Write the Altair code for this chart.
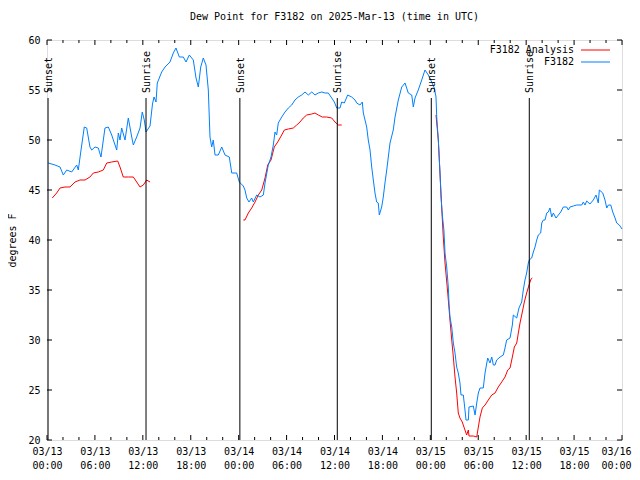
import altair as alt
import pandas as pd

# ---- data (time in hours since 2025-03-13 00:00 UTC) ----
obs_hours = [0.16,1.0,1.63,2.04,2.47,3.09,3.72,3.92,4.26,4.67,4.97,5.38,5.6,6.01,6.42,6.76,7.26,7.68,8.1,8.73,8.93,9.14,9.35,9.77,10.18,10.61,10.81,11.23,11.65,11.93,12.18,12.4,12.9,13.21,13.4,13.65,13.81,14.36,14.78,15.4,15.82,16.15,16.57,17.07,17.41,17.82,18.32,18.66,18.95,19.25,19.57,19.91,20.2,20.41,20.62,20.82,21.04,21.45,21.88,22.29,22.83,23.13,23.75,24.08,24.58,24.79,25.01,25.29,25.63,25.83,26.26,26.67,27.09,27.3,27.71,28.05,28.34,28.55,28.76,28.96,29.39,29.8,30.22,30.64,31.05,31.47,31.89,32.31,32.72,33.15,33.56,33.97,34.4,34.81,35.22,35.65,35.98,36.28,36.69,36.9,37.23,37.65,38.15,38.57,38.78,39.19,39.48,39.61,40.03,40.23,40.45,40.66,40.86,41.07,41.28,41.48,41.61,41.91,42.11,42.32,42.54,42.74,42.95,43.36,43.58,43.99,44.42,44.83,45.24,45.67,45.87,46.08,46.49,46.92,47.33,47.75,48.17,48.5,48.71,48.8,49.0,49.21,49.34,49.5,49.7,49.84,50.05,50.25,50.34,50.46,50.68,50.88,51.09,51.3,51.5,51.71,51.84,52.13,52.34,52.47,52.76,52.84,53.38,53.6,53.81,54.01,54.22,54.63,54.85,55.18,55.47,55.69,55.89,56.1,56.31,56.73,57.14,57.35,57.56,57.98,58.27,58.39,58.82,59.1,59.44,59.64,59.85,60.06,60.27,60.39,60.69,60.9,61.11,61.32,61.52,61.82,61.95,62.15,62.36,62.57,62.77,62.98,63.2,63.4,63.74,64.03,64.33,64.65,65.08,65.28,65.49,65.9,66.33,66.96,67.16,67.37,67.58,67.99,68.41,68.75,69.03,69.16,69.59,69.87,70.09,70.29,70.59,70.84,71.13,71.34,71.66,71.84,72.0]
obs_vals = [47.7,47.5,47.3,46.5,47.0,46.8,47.5,47.0,49.0,51.3,51.2,49.3,49.0,49.3,49.2,48.3,51.2,51.3,50.5,49.0,50.7,50.0,51.2,50.0,52.2,50.3,49.5,50.3,51.2,52.8,52.0,50.8,51.4,53.6,54.3,53.8,55.7,56.8,57.3,57.8,58.7,59.2,58.3,58.3,57.8,58.5,58.0,56.2,55.3,57.3,58.2,57.5,55.0,50.3,49.3,50.0,48.5,48.5,49.3,48.5,48.3,46.7,46.7,45.8,45.4,45.0,44.2,43.8,44.2,43.8,44.5,44.3,44.5,45.7,47.5,48.3,49.5,50.8,50.5,51.7,52.3,52.8,53.2,53.5,54.0,54.3,54.5,54.8,54.5,54.8,54.5,54.7,54.8,54.7,54.7,54.2,53.8,53.2,53.2,53.8,53.7,54.5,54.3,54.0,53.7,53.5,53.8,52.7,51.3,50.0,49.0,47.3,46.0,44.7,43.8,43.7,42.5,43.3,44.3,45.7,47.0,48.3,49.7,51.0,52.3,54.0,55.3,55.7,54.7,54.5,53.3,54.2,55.0,56.0,57.0,56.5,55.8,55.2,54.3,52.3,50.0,46.7,44.3,42.5,41.0,38.7,37.3,35.3,33.7,32.3,31.3,29.7,28.7,27.3,26.7,25.7,24.5,24.5,23.0,22.0,22.0,23.3,23.4,22.5,23.7,24.7,25.2,25.2,26.7,28.2,27.7,28.3,27.5,27.5,28.0,28.3,28.5,29.2,30.0,30.2,31.5,32.5,32.2,33.2,33.8,35.0,36.0,36.7,37.7,38.0,38.2,38.8,39.3,40.0,40.5,40.7,41.7,42.0,42.0,42.7,42.8,43.2,42.3,42.7,42.2,42.5,42.8,43.3,43.3,43.0,43.3,43.4,43.5,43.5,43.8,43.5,43.9,43.6,44.0,44.5,43.7,45.0,44.7,44.0,43.2,43.5,43.5,42.8,42.2,41.7,41.5,41.3,41.1]

ana1_hours = [0.66,1.21,1.63,2.25,2.88,3.51,4.13,4.76,5.38,5.8,6.42,7.05,7.48,8.1,8.85,9.14,9.55,10.18,10.81,11.23,11.65,12.06,12.48,12.9]
ana1_vals = [44.2,44.7,45.2,45.3,45.3,45.8,46.0,46.0,46.3,46.7,46.8,47.0,47.7,47.8,47.9,47.3,46.3,46.3,46.3,45.8,45.3,45.5,46.0,45.8]
ana2_hours = [24.58,24.79,25.21,25.63,26.05,26.46,26.89,27.3,27.64,28.05,28.46,28.89,29.39,29.72,30.22,30.84,31.27,31.68,32.09,32.52,33.15,33.56,33.97,34.47,35.02,35.65,36.06,36.48,36.9]
ana2_vals = [42.0,42.0,42.7,43.2,43.8,44.5,45.0,46.2,47.5,48.0,49.3,49.8,50.5,51.0,51.1,51.2,51.5,51.8,52.2,52.5,52.6,52.7,52.5,52.3,52.3,52.2,51.8,51.5,51.5]
ana3_hours = [48.71,49.0,49.21,49.42,49.62,49.84,50.18,50.46,50.68,50.88,51.09,51.3,51.5,51.71,52.0,52.25,52.55,52.76,52.84,53.38,53.81,54.01,54.22,54.51,54.85,55.26,55.69,56.1,56.51,56.94,57.35,57.69,57.98,58.27,58.52,58.82,59.02,59.23,59.52,59.77,60.06,60.36,60.61,60.77]
ana3_vals = [52.5,50.0,46.7,43.3,40.3,37.7,34.7,32.0,30.0,28.3,26.3,24.7,22.7,22.2,21.8,21.2,20.5,21.0,20.4,20.4,20.3,21.3,22.3,23.2,23.5,24.0,24.5,24.7,25.3,25.8,26.3,27.0,27.2,28.3,29.3,29.7,30.7,31.7,32.8,33.8,34.7,35.5,36.1,36.2]

sun_hours = [0.13, 12.4, 24.15, 36.35, 48.12, 60.39]
sun_labels = ["Sunset", "Sunrise", "Sunset", "Sunrise", "Sunset", "Sunrise"]

x_major = list(range(0, 73, 6))
x_minor = [h for h in range(0, 73, 2) if h % 6 != 0]
y_ticks = list(range(20, 61, 5))

legend_labels = ["F3182 Analysis", "F3182"]
legend_colors = ["#ff0000", "#0080ff"]

FONT = "DejaVu Sans Mono"
W, H = 575, 400

obs = pd.DataFrame({"h": obs_hours, "v": obs_vals})
ana = pd.concat([
    pd.DataFrame({"h": ana1_hours, "v": ana1_vals, "seg": 1}),
    pd.DataFrame({"h": ana2_hours, "v": ana2_vals, "seg": 2}),
    pd.DataFrame({"h": ana3_hours, "v": ana3_vals, "seg": 3}),
])
sun = pd.DataFrame({"h": sun_hours, "label": sun_labels})
xmaj = pd.DataFrame({"h": x_major})
xmin = pd.DataFrame({"h": x_minor})
yt = pd.DataFrame({"v": y_ticks})
leg = pd.DataFrame({"label": legend_labels, "color": legend_colors, "row": [0, 1]})

xscale = alt.Scale(domain=[0, 72], nice=False, zero=False)
yscale = alt.Scale(domain=[20, 60], nice=False, zero=False)

label_expr = ("['03/' + (13 + floor(datum.value / 24)), "
              "((datum.value % 24) < 10 ? '0' : '') + (datum.value % 24) + ':00']")

xaxis = alt.Axis(values=x_major, labelExpr=label_expr, ticks=False, domain=False, grid=False,
                 labelFont=FONT, labelFontSize=10, labelColor="black", labelPadding=6,
                 labelLineHeight=14, labelOverlap=False, labelBound=False, labelFlush=False,
                 labelOffset={"condition": {"test": "datum.value >= 72", "value": -6}, "value": 0},
                 labelAngle=0, title=None)
yaxis = alt.Axis(values=y_ticks, ticks=False, domain=False, grid=False,
                 labelFont=FONT, labelFontSize=10, labelColor="black", labelPadding=7,
                 title="degrees F", titleFont=FONT, titleFontSize=10, titleFontWeight="normal",
                 titleColor="black", titleX=-35, titleY=200, titleAngle=270,
                 titleAlign="center", titleBaseline="middle")

ana_line = alt.Chart(ana).mark_line(color="#ff0000", strokeWidth=1).encode(
    x=alt.X("h:Q", scale=xscale, axis=xaxis),
    y=alt.Y("v:Q", scale=yscale, axis=yaxis),
    detail="seg:N",
)
obs_line = alt.Chart(obs).mark_line(color="#0080ff", strokeWidth=1).encode(
    x=alt.X("h:Q", scale=xscale),
    y=alt.Y("v:Q", scale=yscale),
)

sun_rule = alt.Chart(sun).mark_rule(color="black", strokeWidth=1).encode(
    x=alt.X("h:Q", scale=xscale), y=alt.value(58), y2=alt.value(H))
sun_text = alt.Chart(sun).mark_text(angle=270, align="left", baseline="middle", dy=1,
                                    font=FONT, fontSize=10, color="black").encode(
    x=alt.X("h:Q", scale=xscale), y=alt.value(53), text="label:N")

def xticks(df, length):
    b = alt.Chart(df).mark_rule(color="black", strokeWidth=1).encode(
        x=alt.X("h:Q", scale=xscale), y=alt.value(H), y2=alt.value(H - length))
    t = alt.Chart(df).mark_rule(color="black", strokeWidth=1).encode(
        x=alt.X("h:Q", scale=xscale), y=alt.value(0), y2=alt.value(length))
    return b + t

ytl = alt.Chart(yt).mark_rule(color="black", strokeWidth=1).encode(
    y=alt.Y("v:Q", scale=yscale), x=alt.value(0), x2=alt.value(5))
ytr = alt.Chart(yt).mark_rule(color="black", strokeWidth=1).encode(
    y=alt.Y("v:Q", scale=yscale), x=alt.value(W - 5), x2=alt.value(W))

legend_layers = []
for i, ypix in enumerate([10, 22]):
    row = leg[leg["row"] == i]
    legend_layers.append(
        alt.Chart(row).mark_text(align="right", baseline="middle", font=FONT, fontSize=10,
                                 color="black").encode(
            x=alt.value(527), y=alt.value(ypix), text="label:N"))
    legend_layers.append(
        alt.Chart(row).mark_rule(strokeWidth=1).encode(
            x=alt.value(534), x2=alt.value(563), y=alt.value(ypix),
            color=alt.Color("color:N", scale=None)))

chart = alt.layer(
    ana_line, obs_line, sun_rule, sun_text,
    xticks(xmaj, 5), xticks(xmin, 3), ytl, ytr,
    *legend_layers,
).properties(
    width=W, height=H,
    title=alt.TitleParams("Dew Point for F3182 on 2025-Mar-13 (time in UTC)",
                          font=FONT, fontSize=10, fontWeight="normal", color="black",
                          anchor="middle", offset=13),
    autosize=alt.AutoSizeParams(type="none"),
    padding={"left": 39, "top": 32, "right": 10, "bottom": 34},
).configure_view(stroke="black", strokeWidth=1).configure(background="white")

chart.save("out.html", embed_options={"renderer": "svg", "actions": False})
